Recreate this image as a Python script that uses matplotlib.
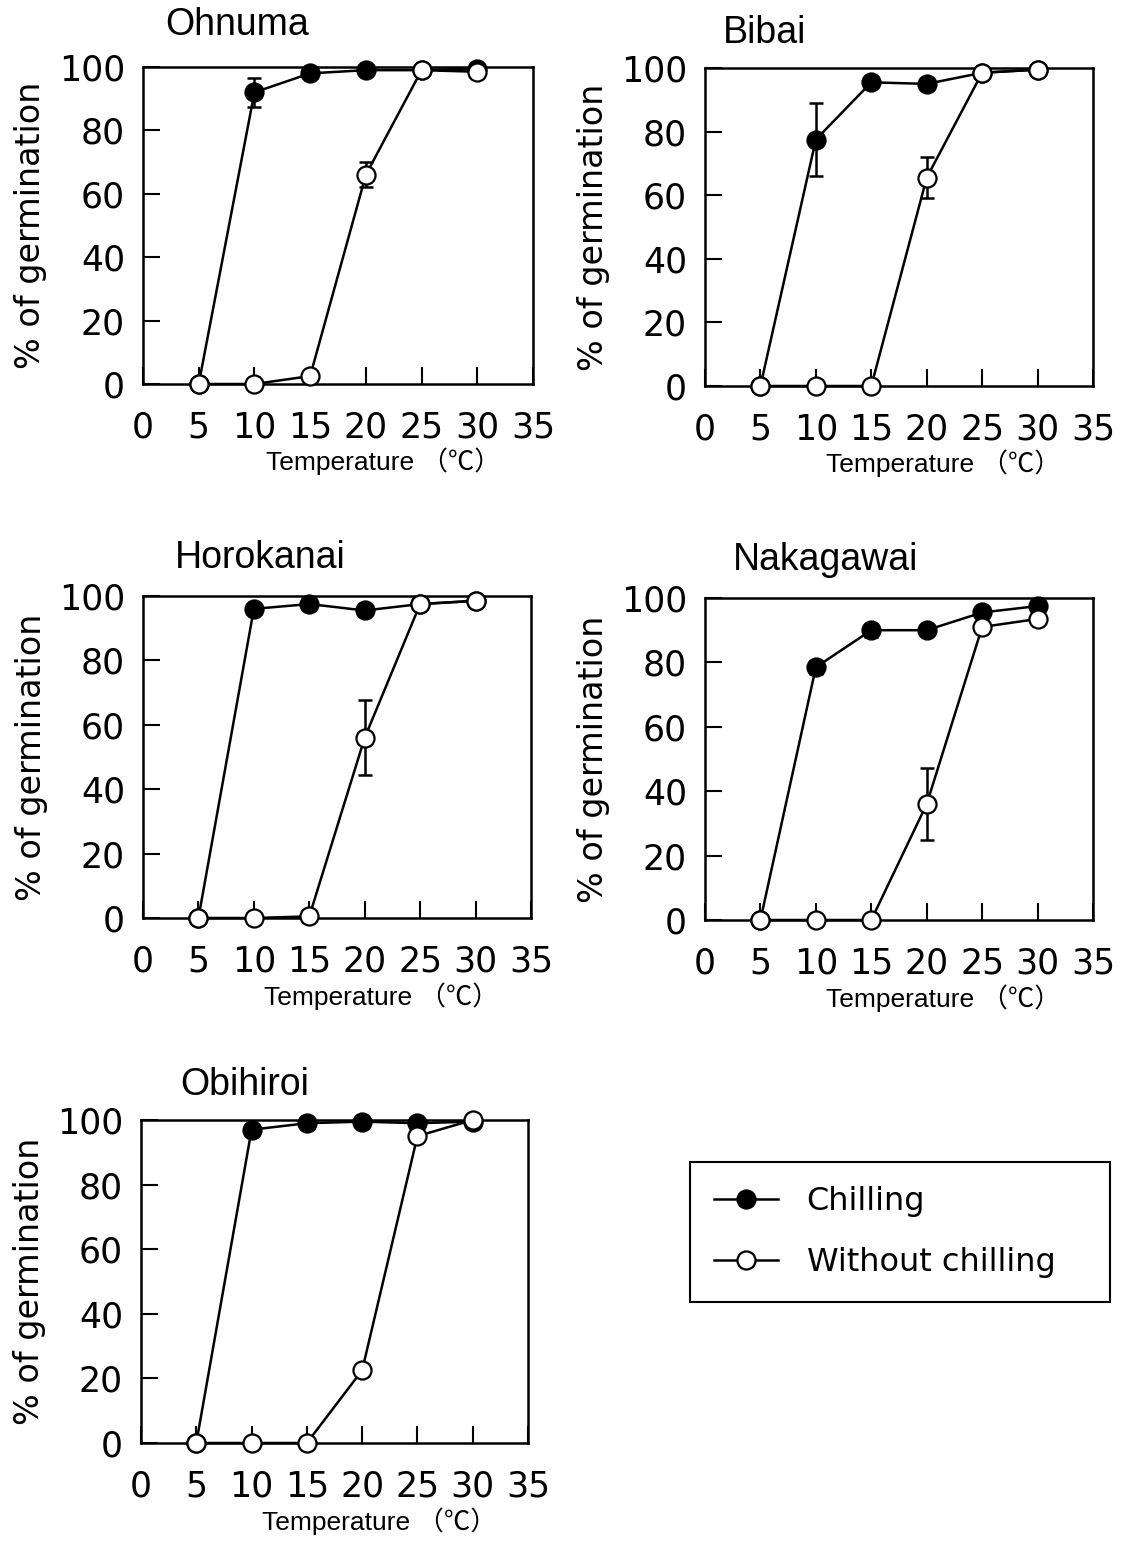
import matplotlib
matplotlib.use("Agg")
import matplotlib.pyplot as plt
from matplotlib.lines import Line2D

# temperatures tested (deg C)
temps = [5, 10, 15, 20, 25, 30]
sites = ["Ohnuma", "Bibai", "Horokanai", "Nakagawai", "Obihiroi"]

# % germination, chilled seeds
chill_ohnuma = [0, 92, 98, 99, 99, 99.5]
chill_bibai = [0, 77.5, 95.5, 95, 98.5, 99.5]
chill_horokanai = [0, 96, 97.5, 95.5, 97.5, 98.5]
chill_nakagawai = [0, 78.5, 90, 90, 95.5, 97.5]
chill_obihiroi = [0, 97, 99, 99.5, 99, 99.5]

# % germination, seeds without chilling
nochill_ohnuma = [0, 0, 2.5, 66, 99, 98.5]
nochill_bibai = [0, 0, 0, 65.5, 98.5, 99.5]
nochill_horokanai = [0, 0, 0.5, 56, 97.5, 98.5]
nochill_nakagawai = [0, 0, 0, 36, 91, 93.5]
nochill_obihiroi = [0, 0, 0, 22.5, 95, 100]

# standard errors (0 = no visible bar)
err_chill_ohnuma = [0, 4.5, 0, 0, 0, 0]
err_chill_bibai = [0, 11.5, 0, 0, 0, 0]
err_chill_horokanai = [0, 0, 0, 0, 0, 0]
err_chill_nakagawai = [0, 2, 2, 0, 0, 0]
err_chill_obihiroi = [0, 0, 0, 0, 0, 0]

err_nochill_ohnuma = [0, 0, 0, 4, 0, 0]
err_nochill_bibai = [0, 0, 0, 6.5, 0, 0]
err_nochill_horokanai = [0, 0, 0, 11.7, 0, 0]
err_nochill_nakagawai = [0, 0, 0, 11.2, 2, 0]
err_nochill_obihiroi = [0, 0, 0, 0, 0, 0]

chill = [chill_ohnuma, chill_bibai, chill_horokanai, chill_nakagawai, chill_obihiroi]
nochill = [nochill_ohnuma, nochill_bibai, nochill_horokanai, nochill_nakagawai, nochill_obihiroi]
err_chill = [err_chill_ohnuma, err_chill_bibai, err_chill_horokanai, err_chill_nakagawai, err_chill_obihiroi]
err_nochill = [err_nochill_ohnuma, err_nochill_bibai, err_nochill_horokanai, err_nochill_nakagawai, err_nochill_obihiroi]

W, H = 1121, 1545
fig = plt.figure(figsize=(W / 100, H / 100), dpi=100)

# axes boxes in pixels: left, top, right, bottom
boxes = [(143, 67, 533, 384), (705, 68, 1093, 386),
         (143, 596, 531, 918), (705, 598, 1093, 920),
         (141, 1120, 528, 1443)]
# title anchor (left x, centre y) in pixels
title_pos = [(165, 25), (723, 33), (175, 558), (733, 560), (180, 1085)]

tick_font = "DejaVu Sans"
lw = 1.8
ms = 13


def draw_series(ax, y, err, face):
    ax.plot(temps, y, color="black", lw=lw, marker="o", ms=ms,
            mfc=face, mec="black", mew=1.6, clip_on=False, zorder=3)
    xs = [t for t, e in zip(temps, err) if e > 0]
    ys = [v for v, e in zip(y, err) if e > 0]
    es = [e for e in err if e > 0]
    if xs:
        ax.errorbar(xs, ys, yerr=es, fmt="none", ecolor="black",
                    elinewidth=1.8, capsize=5, capthick=1.8, zorder=2,
                    clip_on=False)


for i, site in enumerate(sites):
    l, t, r, b = boxes[i]
    ax = fig.add_axes([l / W, 1 - b / H, (r - l) / W, (b - t) / H])
    draw_series(ax, chill[i], err_chill[i], "black")
    draw_series(ax, nochill[i], err_nochill[i], "white")

    ax.set_xlim(0, 35)
    ax.set_ylim(0, 100)
    ax.set_xticks(range(0, 40, 5))
    ax.set_yticks(range(0, 120, 20))
    ax.tick_params(direction="in", length=12, width=1.5,
                   labelsize=25, color="black")
    ax.tick_params(axis="x", pad=19)
    ax.tick_params(axis="y", pad=13)
    for lab in ax.get_xticklabels() + ax.get_yticklabels():
        lab.set_fontfamily(tick_font)
    for sp in ax.spines.values():
        sp.set_linewidth(1.8)

    ax.set_ylabel("% of germination", fontsize=24, family=tick_font)
    ax.yaxis.set_label_coords(-0.245, 0.5)
    ax.set_xlabel("Temperature （℃）", fontsize=19,
                  family=["Liberation Sans", "Noto Sans CJK JP"])
    ax.xaxis.set_label_coords(0.615, -0.2)

    tx, ty = title_pos[i]
    fig.text(tx / W, 1 - ty / H, site, fontsize=27, family="Liberation Sans",
             ha="left", va="center")

handles = [
    Line2D([], [], color="black", lw=lw, marker="o", ms=ms, mfc="black",
           mec="black", mew=1.6),
    Line2D([], [], color="black", lw=lw, marker="o", ms=ms, mfc="white",
           mec="black", mew=1.6),
]
leg = fig.legend(handles, ["Chilling", "Without chilling"],
                 loc="upper left", mode="expand",
                 bbox_to_anchor=(690 / W, 1 - 1298 / H, 420 / W, 136 / H),
                 prop={"family": tick_font, "size": 23},
                 frameon=True, fancybox=False, framealpha=1,
                 edgecolor="black", handlelength=2.0, handletextpad=0.9,
                 labelspacing=0.95, borderpad=0.75, borderaxespad=0)
leg.get_frame().set_linewidth(1.5)

fig.savefig("out.png", dpi=100)
